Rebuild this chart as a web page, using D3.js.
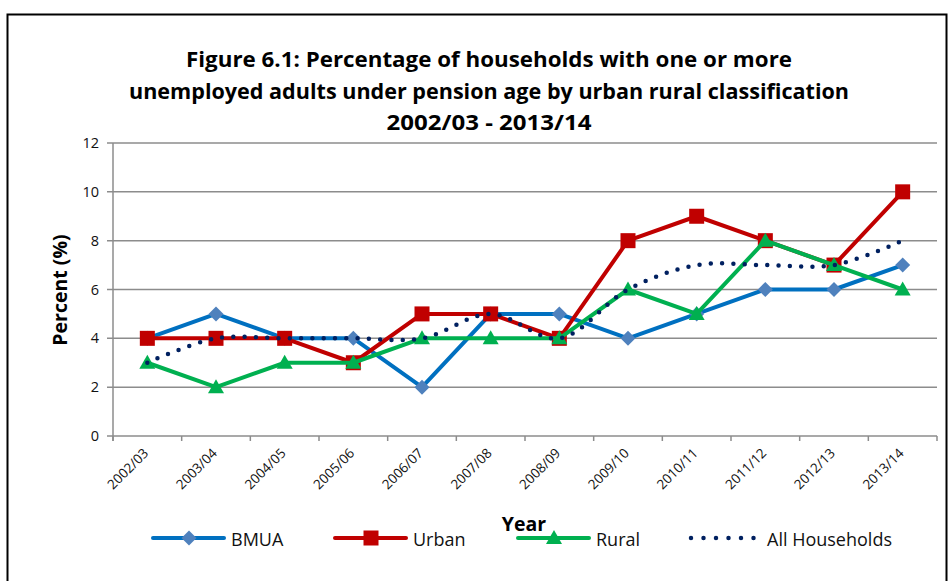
<!DOCTYPE html>
<html>
<head>
<meta charset="utf-8">
<script src="https://cdn.jsdelivr.net/npm/d3@7"></script>
<style>
  body { margin: 0; background: #fff; }
  text { font-family: "Open Sans", "Noto Sans", sans-serif; }
</style>
</head>
<body>
<div id="chart"></div>
<script>
// chart data
const years = ["2002/03", "2003/04", "2004/05", "2005/06", "2006/07", "2007/08",
    "2008/09", "2009/10", "2010/11", "2011/12", "2012/13", "2013/14"];
const bmua = [4, 5, 4, 4, 2, 5, 5, 4, 5, 6, 6, 7];
const urban = [4, 4, 4, 3, 5, 5, 4, 8, 9, 8, 7, 10];
const rural = [3, 2, 3, 3, 4, 4, 4, 6, 5, 8, 7, 6];
const allHouseholds = [3, 4, 4, 4, 4, 5, 4, 6, 7, 7, 7, 8];
const yTicks = [0, 2, 4, 6, 8, 10, 12];
const titleLines = [
    "Figure 6.1:  Percentage of households with one or more",
    "unemployed adults under pension age by urban rural classification",
    "2002/03 - 2013/14"
];
const titleWidths = [606, 720, 205];

const series = [
    { name: "BMUA", values: bmua, line: "#0070c0", marker: "#4f81bd", shape: "diamond" },
    { name: "Urban", values: urban, line: "#c00000", marker: "#c00000", shape: "square" },
    { name: "Rural", values: rural, line: "#00b050", marker: "#00b050", shape: "triangle" },
    { name: "All Households", values: allHouseholds, line: "#002060", marker: null, shape: null, dotted: true }
];

const width = 952, height = 581;
const plot = { left: 113, right: 937, top: 143, bottom: 436 };

const svg = d3.select("#chart").append("svg")
    .attr("width", width)
    .attr("height", height);

// outer frame
svg.append("rect")
    .attr("x", 7.5).attr("y", 14.5)
    .attr("width", 939).attr("height", 600)
    .attr("fill", "none")
    .attr("stroke", "#000")
    .attr("stroke-width", 2);

// title
svg.append("g").selectAll("text")
    .data(titleLines)
    .enter().append("text")
    .attr("x", 489)
    .attr("y", (d, i) => 67 + i * 31.5)
    .attr("text-anchor", "middle")
    .attr("textLength", (d, i) => titleWidths[i])
    .attr("lengthAdjust", "spacingAndGlyphs")
    .style("font-size", "21.5px")
    .style("font-weight", "bold")
    .text(d => d);

const x = d3.scaleBand()
    .domain(years)
    .range([plot.left, plot.right]);

const y = d3.scaleLinear()
    .domain([0, 12])
    .range([plot.bottom, plot.top]);

// gridlines
svg.append("g").selectAll("line")
    .data(yTicks)
    .enter().append("line")
    .attr("x1", plot.left - 6)
    .attr("x2", plot.right)
    .attr("y1", d => y(d))
    .attr("y2", d => y(d))
    .attr("stroke", "#8c8c8c")
    .attr("stroke-width", 1.5);

// y axis line
svg.append("line")
    .attr("x1", plot.left).attr("x2", plot.left)
    .attr("y1", plot.top).attr("y2", plot.bottom + 5)
    .attr("stroke", "#8c8c8c")
    .attr("stroke-width", 1.5);

// x tick marks between categories
const xTickPos = years.map(d => x(d)).concat([plot.right]);
svg.append("g").selectAll("line")
    .data(xTickPos)
    .enter().append("line")
    .attr("x1", d => d).attr("x2", d => d)
    .attr("y1", plot.bottom).attr("y2", plot.bottom + 5)
    .attr("stroke", "#8c8c8c")
    .attr("stroke-width", 1.5);

// y tick labels
svg.append("g").selectAll("text")
    .data(yTicks)
    .enter().append("text")
    .attr("x", plot.left - 14)
    .attr("y", d => y(d) + 5)
    .attr("text-anchor", "end")
    .style("font-size", "14.5px")
    .style("fill", "#111")
    .text(d => d);

// x tick labels (rotated)
svg.append("g").selectAll("text")
    .data(years)
    .enter().append("text")
    .attr("text-anchor", "end")
    .attr("transform", d => `translate(${x(d) + x.bandwidth() / 2 + 2}, ${plot.bottom + 18}) rotate(-45)`)
    .style("font-size", "13.5px")
    .style("fill", "#111")
    .text(d => d);

// axis titles
svg.append("text")
    .attr("transform", `translate(67, 290) rotate(-90)`)
    .attr("text-anchor", "middle")
    .style("font-size", "19.5px")
    .style("font-weight", "bold")
    .text("Percent (%)");

svg.append("text")
    .attr("x", 524)
    .attr("y", 531)
    .attr("text-anchor", "middle")
    .style("font-size", "19.5px")
    .style("font-weight", "bold")
    .text("Year");

const cx = d => x(d) + x.bandwidth() / 2;

const straight = d3.line()
    .x((d, i) => cx(years[i]))
    .y(d => y(d));

const smooth = d3.line()
    .x((d, i) => cx(years[i]))
    .y(d => y(d))
    .curve(d3.curveCatmullRom.alpha(0.5));

function drawMarker(g, shape, color, px, py) {
    if (shape === "square") {
        g.append("rect")
            .attr("x", px - 7.5).attr("y", py - 7.5)
            .attr("width", 15).attr("height", 15)
            .attr("fill", color);
    } else if (shape === "diamond") {
        g.append("path")
            .attr("d", `M${px},${py - 7.5}L${px + 7.5},${py}L${px},${py + 7.5}L${px - 7.5},${py}Z`)
            .attr("fill", color);
    } else if (shape === "triangle") {
        g.append("path")
            .attr("d", `M${px},${py - 8}L${px + 8},${py + 6}L${px - 8},${py + 6}Z`)
            .attr("fill", color);
    }
}

// series lines, drawn in order so later ones sit on top
series.forEach(s => {
    const g = svg.append("g");
    g.append("path")
        .datum(s.values)
        .attr("d", s.dotted ? smooth : straight)
        .attr("fill", "none")
        .attr("stroke", s.line)
        .attr("stroke-width", s.dotted ? 4.5 : 4)
        .attr("stroke-linecap", "round")
        .attr("stroke-linejoin", "round")
        .attr("stroke-dasharray", s.dotted ? "0 11.3" : null);
    if (s.shape) {
        s.values.forEach((v, i) => drawMarker(g, s.shape, s.marker, cx(years[i]), y(v)));
    }
});

// legend
const legendX = [153, 335, 518, 690];
const legend = svg.append("g");
series.forEach((s, i) => {
    const lx = legendX[i], ly = 538;
    if (s.dotted) {
        legend.append("line")
            .attr("x1", lx + 1).attr("x2", lx + 66)
            .attr("y1", ly).attr("y2", ly)
            .attr("stroke", s.line)
            .attr("stroke-width", 4.5)
            .attr("stroke-linecap", "round")
            .attr("stroke-dasharray", "0 12.5");
        legend.append("text")
            .attr("x", lx + 77).attr("y", ly + 8)
            .style("font-size", "18px")
            .style("fill", "#111")
            .text(s.name);
    } else {
        legend.append("line")
            .attr("x1", lx).attr("x2", lx + 71)
            .attr("y1", ly).attr("y2", ly)
            .attr("stroke", s.line)
            .attr("stroke-width", 4)
            .attr("stroke-linecap", "round");
        drawMarker(legend, s.shape, s.marker, lx + 36, ly);
        legend.append("text")
            .attr("x", lx + 78).attr("y", ly + 8)
            .style("font-size", "18px")
            .style("fill", "#111")
            .text(s.name);
    }
});
</script>
</body>
</html>
